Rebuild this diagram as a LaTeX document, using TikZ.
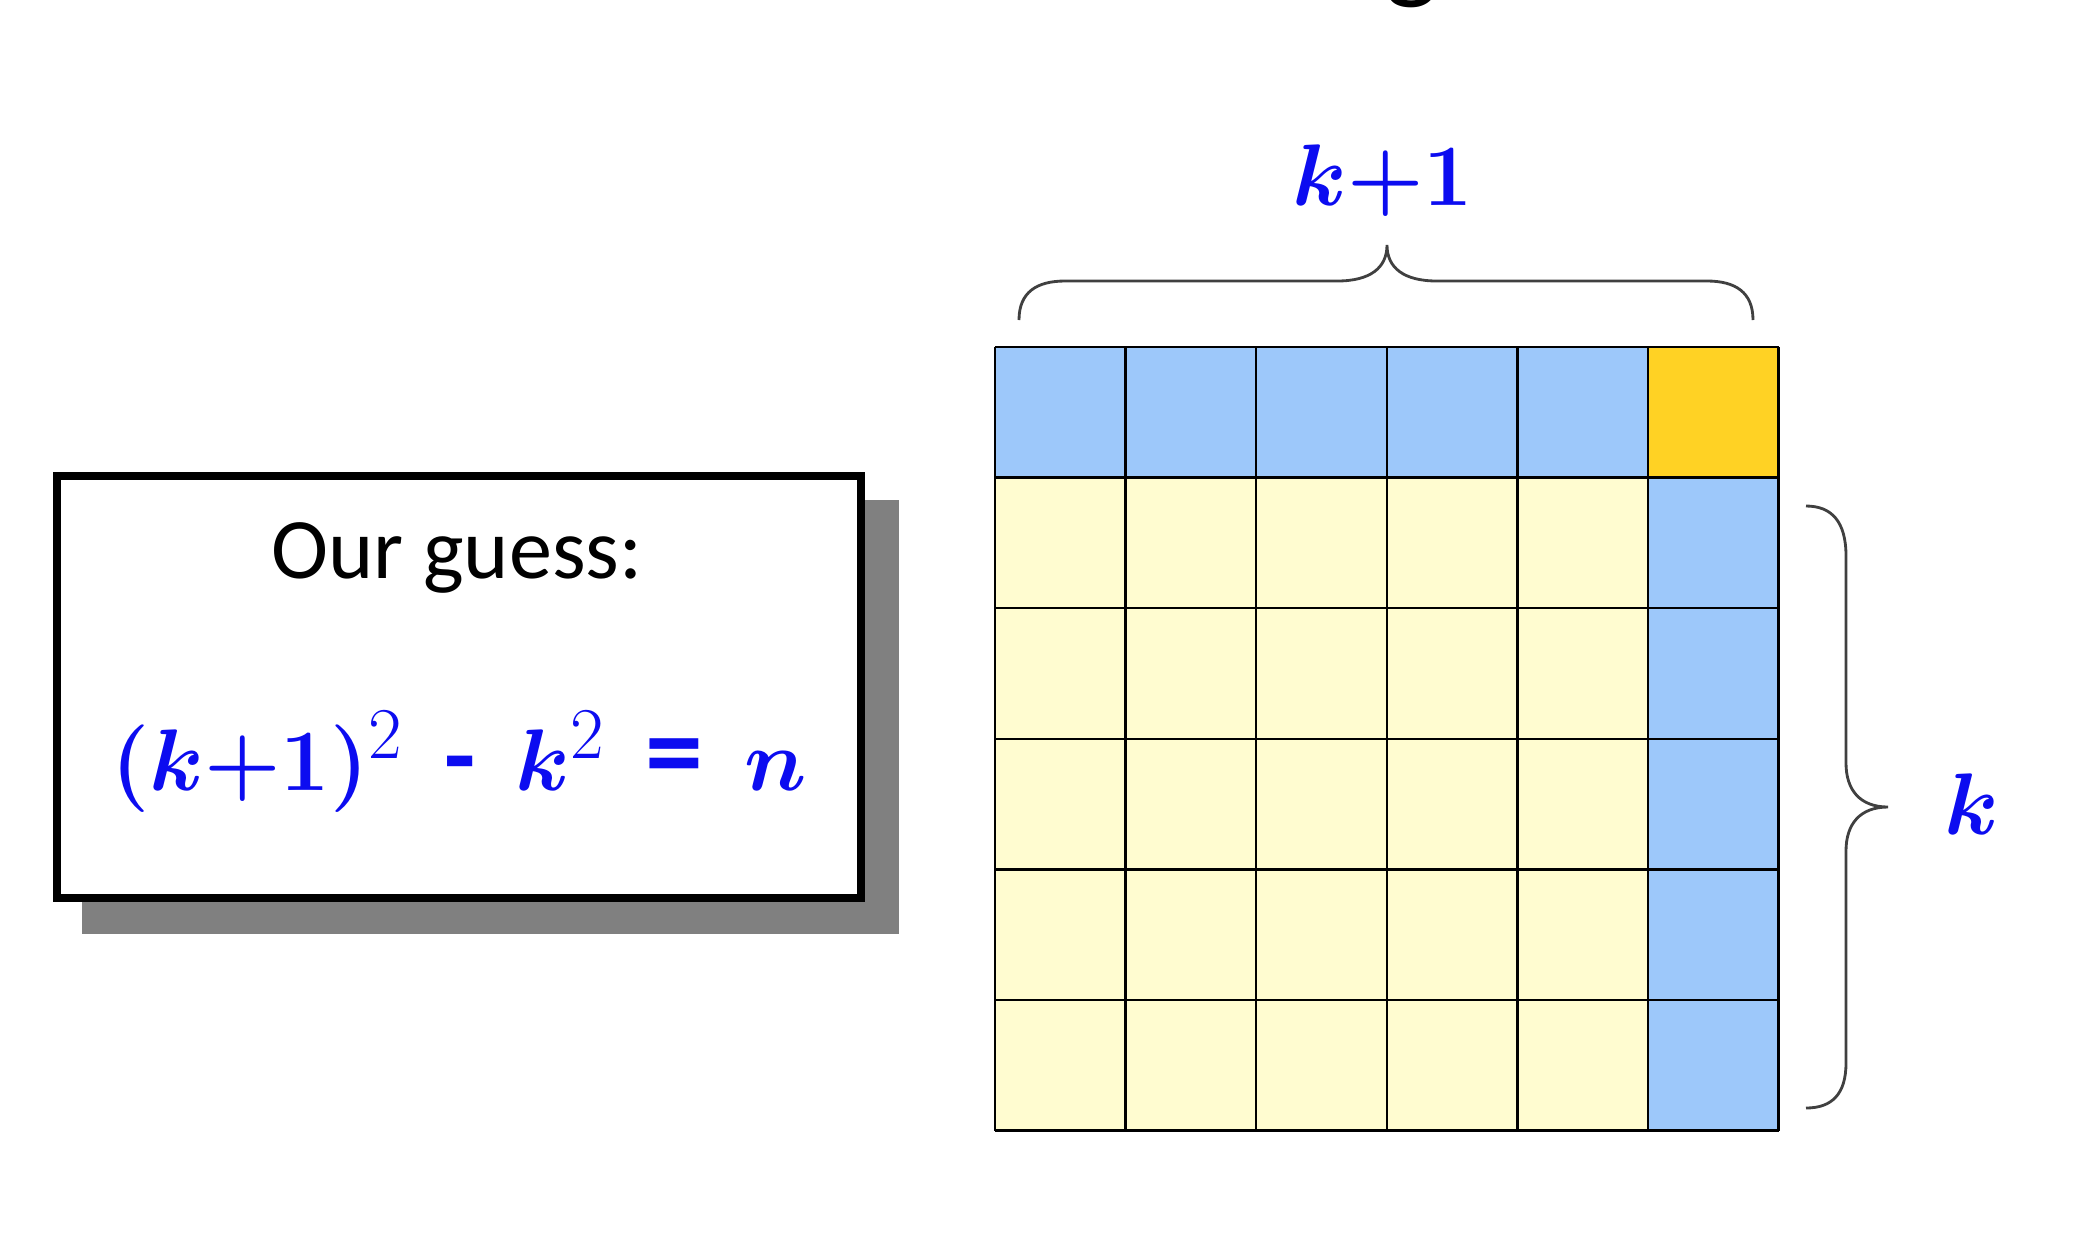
\documentclass[tikz,border=0pt]{standalone}
\usepackage{amsmath}
\usepackage{fontspec}
\setmainfont{Carlito}
\definecolor{cellblue}{RGB}{157,200,250}
\definecolor{cellgold}{RGB}{255,210,36}
\definecolor{cellcream}{RGB}{255,252,208}
\definecolor{txtblue}{RGB}{12,12,240}
\definecolor{shadowgray}{RGB}{128,128,128}
\newsavebox{\formulabox}
\newsavebox{\kponebox}
\newsavebox{\kbox}
\newcommand{\sqtwo}{\mbox{\fontsize{20.5}{22}\selectfont\unboldmath$2$}}
\newcommand{\fgap}{\hspace{11.5pt}}
\tikzset{
  gridline/.style={draw=black, line width=0.7pt},
  bracestyle/.style={draw=black!75, line width=0.8pt},
  guessbox/.style={draw=black, fill=white, line width=2.3pt, minimum width=8.04cm, minimum height=4.22cm, inner sep=0pt},
  bluemath/.style={inner sep=0pt, anchor=base},
}
\begin{document}
\sbox{\formulabox}{\fontsize{29}{34}\selectfont\color{txtblue}\boldmath$(k{+}1)^{\sqtwo}$\fgap\textbf{-}\fgap$k^{\sqtwo}$\fgap{\fontsize{33}{34}\selectfont\textbf{=}}\fgap$n$}%
\sbox{\kponebox}{\fontsize{26.5}{31}\selectfont\color{txtblue}\boldmath$k{+}1$}%
\sbox{\kbox}{\fontsize{28}{33}\selectfont\color{txtblue}\boldmath$k$}%
\begin{tikzpicture}[x=0.01cm,y=-0.01cm]
\useasboundingbox (0,0) rectangle (2075,1250);
% cut-off title letter at the top
\begin{scope}
\clip (0,0) rectangle (2075,1250);
\node[anchor=base, inner sep=0pt, font=\fontsize{32}{38}\selectfont] (title) at (1412,-12) {g};
\end{scope}
% shadow and box
\fill[shadowgray] (82,500) rectangle (899,934);
\node[guessbox] (box) at (459,687) {};
\node[anchor=base, inner sep=0pt, font=\fontsize{24.5}{29}\selectfont] (guess) at (457,578) {Our guess:};
\node[bluemath] (formula) at (459,790) {\usebox{\formulabox}};
% grid
\fill[cellcream] (995,347) rectangle (1778.6,1130.6);
\fill[cellblue] (995,347) rectangle (1648,477.6);
\fill[cellgold] (1648,347) rectangle (1778.6,477.6);
\fill[cellblue] (1648,477.6) rectangle (1778.6,1130.6);
\foreach \i in {0,...,6} {
  \draw[gridline] ({995+130.6*\i},347) -- ({995+130.6*\i},1130.6);
  \draw[gridline] (995,{347+130.6*\i}) -- (1778.6,{347+130.6*\i});
}
% top brace
\draw[bracestyle] (1019,320) .. controls (1019,292) and (1037,281) .. (1065,281) -- (1337,281)
  .. controls (1370,281) and (1387,268) .. (1387,245)
  .. controls (1387,268) and (1404,281) .. (1437,281) -- (1707,281)
  .. controls (1735,281) and (1753,292) .. (1753,320);
\node[bluemath] (kp1) at (1383,205) {\usebox{\kponebox}};
% right brace
\draw[bracestyle] (1806,506) .. controls (1832,506) and (1846,522) .. (1846,556) -- (1846,763)
  .. controls (1846,790) and (1860,807) .. (1888,807)
  .. controls (1860,807) and (1846,824) .. (1846,851) -- (1846,1063)
  .. controls (1846,1094) and (1832,1108) .. (1806,1108);
\node[bluemath] (klab) at (1972,834) {\usebox{\kbox}};
\end{tikzpicture}
\end{document}
